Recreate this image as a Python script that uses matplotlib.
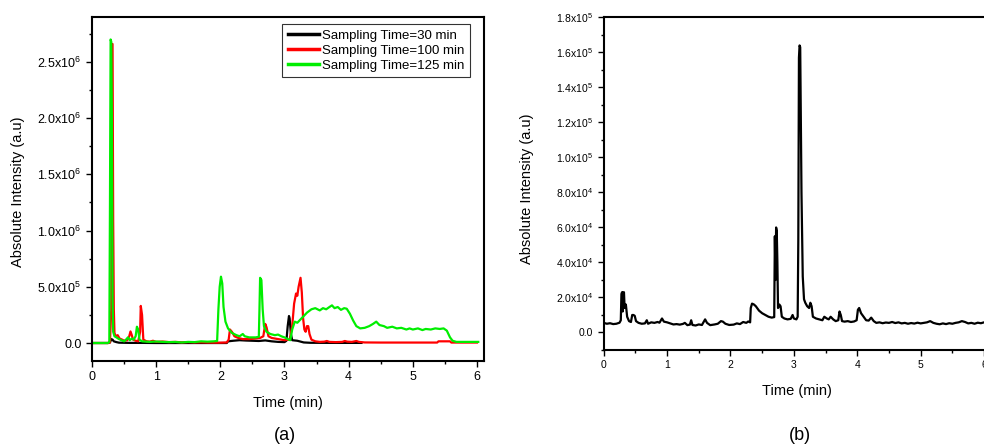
import matplotlib
matplotlib.use("Agg")
import matplotlib.pyplot as plt
from matplotlib.ticker import FuncFormatter, MultipleLocator

plt.rcParams['font.family'] = ['Liberation Sans', 'DejaVu Sans']
plt.rcParams['mathtext.default'] = 'regular'

# ---- (a) chromatograms at three sampling times ----
t_30 = [0.00, 0.25, 0.28, 0.30, 0.32, 0.34, 0.38, 0.42, 0.50, 0.60, 0.80, 1.00, 1.40, 1.80, 2.10,
        2.12, 2.20, 2.30, 2.40, 2.50, 2.60, 2.70, 2.80, 2.90, 3.00, 3.03, 3.05, 3.07, 3.08, 3.10,
        3.12, 3.20, 3.30, 3.40, 3.80, 4.20]
i_30 = [0, 0, 5e3, 3.5e4, 3e4, 1.5e4, 8e3, 3e3, 2e3, 1e3, 1e3, 0, 0, 0, 0,
        1.5e4, 2e4, 2.5e4, 2.2e4, 2e4, 1.8e4, 2.3e4, 1.5e4, 1e4, 8e3, 2e4, 1.5e5, 2.4e5, 2.2e5, 8e4,
        2.5e4, 2e4, 5e3, 2e3, 1e3, 1e3]

t_100 = [0.00, 0.25, 0.28, 0.30, 0.31, 0.32, 0.33, 0.34, 0.35, 0.37, 0.40, 0.43, 0.47, 0.50, 0.55,
         0.58, 0.60, 0.62, 0.64, 0.68, 0.72, 0.75, 0.76, 0.78, 0.80, 0.85, 0.90, 0.95, 1.00, 1.10,
         1.20, 1.30, 1.40, 1.50, 1.60, 1.70, 1.80, 1.90, 2.00, 2.10, 2.13, 2.15, 2.18, 2.22, 2.28,
         2.35, 2.45, 2.55, 2.62, 2.67, 2.70, 2.72, 2.75, 2.80, 2.90, 3.00, 3.08, 3.12, 3.15, 3.18,
         3.20, 3.22, 3.25, 3.27, 3.29, 3.31, 3.33, 3.35, 3.37, 3.39, 3.42, 3.48, 3.55, 3.62, 3.66,
         3.70, 3.80, 3.90, 3.94, 3.98, 4.05, 4.12, 4.16, 4.25, 4.50, 5.00, 5.38, 5.40, 5.58, 5.60,
         6.00]
i_100 = [0, 0, 5e3, 3e5, 2.66e6, 2.66e6, 1.09e6, 3e5, 9e4, 6e4, 7e4, 4e4, 3e4, 2e4, 2.5e4,
         6e4, 1.03e5, 7e4, 3e4, 2e4, 1.5e4, 1e5, 3.3e5, 2.5e5, 3e4, 1.5e4, 1.2e4, 2e4, 1e4, 1.3e4,
         8e3, 1e4, 6e3, 8e3, 5e3, 6e3, 4e3, 3e3, 3e3, 5e3, 3e4, 1.2e5, 1e5, 6e4, 4.5e4,
         3.5e4, 3.5e4, 4e4, 4.5e4, 6e4, 1.7e5, 1.4e5, 6e4, 4.5e4, 3.5e4, 2.5e4, 3e4, 1.5e5, 3.5e5, 4.4e5,
         4.2e5, 5e5, 5.8e5, 4.5e5, 2.2e5, 1.2e5, 1e5, 1.5e5, 1.5e5, 8e4, 3e4, 1.5e4, 1e4, 1.2e4, 1.8e4,
         1e4, 8e3, 1e4, 1.8e4, 1.2e4, 1e4, 1.8e4, 1e4, 5e3, 4e3, 4e3, 4e3, 1.5e4, 1.5e4, 4e3,
         4e3]

t_125 = [0.00, 0.25, 0.27, 0.28, 0.29, 0.30, 0.31, 0.32, 0.33, 0.35, 0.38, 0.42, 0.46, 0.50, 0.53,
         0.56, 0.59, 0.62, 0.65, 0.68, 0.70, 0.72, 0.74, 0.78, 0.85, 0.90, 1.00, 1.10, 1.20, 1.30,
         1.40, 1.50, 1.60, 1.70, 1.80, 1.90, 1.95, 1.97, 1.99, 2.01, 2.03, 2.05, 2.08, 2.12, 2.18,
         2.25, 2.30, 2.35, 2.38, 2.45, 2.55, 2.60, 2.61, 2.62, 2.64, 2.66, 2.68, 2.72, 2.78, 2.85,
         2.90, 2.95, 3.00, 3.05, 3.09, 3.12, 3.16, 3.20, 3.25, 3.30, 3.35, 3.42, 3.48, 3.55, 3.60,
         3.65, 3.70, 3.74, 3.78, 3.83, 3.88, 3.93, 3.97, 4.02, 4.07, 4.12, 4.18, 4.25, 4.32, 4.38,
         4.43, 4.48, 4.55, 4.60, 4.68, 4.75, 4.82, 4.90, 4.95, 5.00, 5.08, 5.15, 5.20, 5.28, 5.35,
         5.42, 5.48, 5.53, 5.58, 5.62, 5.68, 6.02]
i_125 = [0, 0, 1e4, 1.25e6, 2.70e6, 2.68e6, 2.0e6, 4e5, 1e5, 6e4, 5e4, 3.5e4, 2.5e4, 1.5e4, 3e4,
         5e4, 2.5e4, 4e4, 3e4, 6e4, 1.45e5, 1.2e5, 3e4, 1.5e4, 1.2e4, 1e4, 1.3e4, 1e4, 8e3, 9e3,
         5e3, 1e4, 8e3, 1.5e4, 1.2e4, 1.5e4, 1.8e4, 3e5, 5e5, 5.9e5, 5.3e5, 3.2e5, 1.9e5, 1.3e5, 9e4,
         7e4, 6e4, 8e4, 6e4, 5e4, 5e4, 5.5e4, 3e5, 5.8e5, 5.6e5, 3e5, 1.5e5, 1e5, 8e4, 7e4,
         7.5e4, 6e4, 5e4, 3.5e4, 2.5e4, 1.2e5, 1.9e5, 1.8e5, 2.1e5, 2.4e5, 2.7e5, 3e5, 3.1e5, 2.9e5, 3.1e5,
         3e5, 3.2e5, 3.35e5, 3.1e5, 3.2e5, 2.95e5, 3.1e5, 3.05e5, 2.6e5, 2e5, 1.5e5, 1.3e5, 1.35e5, 1.5e5, 1.7e5,
         1.9e5, 1.6e5, 1.5e5, 1.35e5, 1.45e5, 1.3e5, 1.35e5, 1.2e5, 1.3e5, 1.2e5, 1.3e5, 1.15e5, 1.25e5, 1.2e5, 1.3e5,
         1.25e5, 1.3e5, 1.1e5, 5e4, 2e4, 1e4, 1e4]

# ---- (b) single chromatogram ----
t_b = [0.00, 0.05, 0.10, 0.15, 0.20, 0.25, 0.27, 0.28, 0.29, 0.30, 0.31, 0.32, 0.33, 0.35, 0.37,
       0.40, 0.43, 0.45, 0.47, 0.49, 0.51, 0.55, 0.60, 0.65, 0.68, 0.70, 0.75, 0.80, 0.85, 0.88,
       0.92, 0.95, 1.00, 1.05, 1.10, 1.15, 1.20, 1.25, 1.28, 1.32, 1.36, 1.38, 1.40, 1.45, 1.50,
       1.55, 1.60, 1.63, 1.68, 1.75, 1.80, 1.85, 1.88, 1.92, 1.98, 2.05, 2.10, 2.15, 2.20, 2.25,
       2.28, 2.31, 2.32, 2.34, 2.37, 2.40, 2.45, 2.50, 2.55, 2.60, 2.65, 2.69, 2.70, 2.71, 2.72,
       2.73, 2.74, 2.75, 2.77, 2.79, 2.81, 2.85, 2.90, 2.95, 2.98, 3.00, 3.04, 3.06, 3.07, 3.08,
       3.09, 3.10, 3.11, 3.12, 3.13, 3.14, 3.16, 3.18, 3.21, 3.24, 3.26, 3.28, 3.30, 3.35, 3.40,
       3.45, 3.48, 3.52, 3.55, 3.58, 3.62, 3.66, 3.70, 3.72, 3.74, 3.76, 3.80, 3.85, 3.90, 3.95,
       3.99, 4.01, 4.03, 4.06, 4.10, 4.14, 4.18, 4.22, 4.26, 4.30, 4.35, 4.40, 4.45, 4.50, 4.55,
       4.60, 4.65, 4.70, 4.75, 4.80, 4.85, 4.90, 4.95, 5.00, 5.05, 5.10, 5.15, 5.20, 5.25, 5.30,
       5.35, 5.40, 5.45, 5.50, 5.55, 5.60, 5.65, 5.70, 5.75, 5.80, 5.85, 5.90, 5.95, 6.00, 6.05,
       6.10]
i_b = [5.5e3, 5.0e3, 5.3e3, 4.8e3, 5.0e3, 5.6e3, 7e3, 2.2e4, 2.3e4, 1.2e4, 2.3e4, 2.3e4, 1.4e4, 1.6e4, 9e3,
       6.5e3, 6e3, 1.0e4, 1.0e4, 9.5e3, 6.5e3, 5.5e3, 5.0e3, 5.2e3, 7e3, 5e3, 5.8e3, 5.5e3, 6e3, 5.6e3,
       8e3, 6.2e3, 5.8e3, 5.2e3, 4.6e3, 4.8e3, 4.5e3, 4.9e3, 5.5e3, 4.2e3, 4.5e3, 7e3, 4.3e3, 4.0e3, 4.6e3,
       4.3e3, 7.5e3, 5.5e3, 4.2e3, 4.6e3, 5.0e3, 6.5e3, 6.2e3, 5.0e3, 4.3e3, 4.5e3, 5.2e3, 4.8e3, 6.0e3, 5.5e3,
       6.3e3, 5.8e3, 1.4e4, 1.65e4, 1.6e4, 1.5e4, 1.25e4, 1.1e4, 1.0e4, 9e3, 8.5e3, 8.8e3, 5.5e4, 3e4, 6.0e4,
       5.8e4, 4e4, 1.4e4, 1.6e4, 1.5e4, 9e3, 8e3, 7.5e3, 7.8e3, 1.0e4, 8e3, 7.5e3, 9e3, 5.3e4, 1.57e5,
       1.64e5, 1.63e5, 1.2e5, 8e4, 5.5e4, 3.2e4, 1.9e4, 1.7e4, 1.5e4, 1.4e4, 1.7e4, 1.5e4, 9e3, 8e3, 7.5e3,
       7.0e3, 9e3, 8e3, 7.5e3, 9e3, 7.5e3, 6.5e3, 7e3, 1.2e4, 1.0e4, 6.5e3, 6.2e3, 6.5e3, 6.0e3, 6.3e3,
       7e3, 1.3e4, 1.4e4, 1.1e4, 9e3, 7e3, 6.8e3, 8.5e3, 6.5e3, 5.5e3, 5.8e3, 5.3e3, 5.7e3, 5.5e3, 6.0e3,
       5.4e3, 5.8e3, 5.2e3, 5.5e3, 5.0e3, 5.4e3, 5.1e3, 5.6e3, 5.2e3, 5.5e3, 5.8e3, 6.5e3, 5.5e3, 5.0e3, 4.7e3,
       5.2e3, 4.8e3, 5.3e3, 5.0e3, 5.5e3, 5.8e3, 6.5e3, 6.0e3, 5.2e3, 5.5e3, 5.0e3, 5.6e3, 5.3e3, 5.8e3, 5.5e3,
       5.6e3]

series_labels = ["Sampling Time=30 min", "Sampling Time=100 min", "Sampling Time=125 min"]
series_colors = ["black", "#ff0000", "#00ee00"]


def sci_fmt(v, pos):
    if abs(v) < 1e-9:
        return "0.0"
    exp = len(str(int(abs(v)))) - 1
    return "%.1fx10$^{%d}$" % (v / 10 ** exp, exp)


fig = plt.figure(figsize=(9.84, 4.47), dpi=100)

# left panel
ax1 = fig.add_axes([0.0935, 0.1924, 0.3984, 0.7696])
for t, y, lab, c in zip([t_30, t_100, t_125], [i_30, i_100, i_125], series_labels, series_colors):
    ax1.plot(t, y, color=c, lw=1.6, label=lab)
ax1.set_xlim(0, 6.11)
ax1.set_ylim(-1.6e5, 2.9e6)
ax1.xaxis.set_major_locator(MultipleLocator(1))
ax1.xaxis.set_minor_locator(MultipleLocator(0.5))
ax1.yaxis.set_major_locator(MultipleLocator(5e5))
ax1.yaxis.set_minor_locator(MultipleLocator(2.5e5))
ax1.yaxis.set_major_formatter(FuncFormatter(sci_fmt))
ax1.tick_params(which='major', direction='out', length=4, width=1, labelsize=9, colors='black')
ax1.tick_params(which='minor', direction='out', length=2.5, width=1)
for s in ax1.spines.values():
    s.set_linewidth(1.5)
ax1.set_xlabel("Time (min)", fontsize=10.5)
ax1.set_ylabel("Absolute Intensity (a.u)", fontsize=10.5)
ax1.xaxis.set_label_coords(0.499, -0.122)
ax1.xaxis.label.set_va('center')
ax1.yaxis.set_label_coords(-0.189, 0.493)
ax1.yaxis.label.set_va('center')
leg = ax1.legend(loc='upper right', bbox_to_anchor=(0.963, 0.979), fontsize=9.5, frameon=True,
                 fancybox=False, edgecolor='black', handlelength=2.4, handletextpad=0.2,
                 borderpad=0.4, labelspacing=0.22, borderaxespad=0)
leg.get_frame().set_linewidth(0.8)
for h in leg.get_lines():
    h.set_linewidth(2.5)

# right panel, runs past the right edge of the figure
ax2 = fig.add_axes([0.6135, 0.217, 0.393, 0.744])
ax2.plot(t_b, i_b, color='black', lw=1.6)
ax2.set_xlim(0, 6.1)
ax2.set_ylim(-1.0e4, 1.8e5)
ax2.xaxis.set_major_locator(MultipleLocator(1))
ax2.xaxis.set_minor_locator(MultipleLocator(0.5))
ax2.yaxis.set_major_locator(MultipleLocator(2e4))
ax2.yaxis.set_minor_locator(MultipleLocator(1e4))
ax2.yaxis.set_major_formatter(FuncFormatter(sci_fmt))
ax2.tick_params(which='major', direction='out', length=4, width=1, labelsize=7.5)
ax2.tick_params(which='minor', direction='out', length=2.5, width=1)
for s in ax2.spines.values():
    s.set_linewidth(1.5)
ax2.set_xlabel("Time (min)", fontsize=10.5)
ax2.set_ylabel("Absolute Intensity (a.u)", fontsize=10.5)
ax2.xaxis.set_label_coords(0.5, -0.123)
ax2.xaxis.label.set_va('center')
ax2.yaxis.set_label_coords(-0.199, 0.484)
ax2.yaxis.label.set_va('center')

fig.text(285 / 984, 1 - 435 / 447, "(a)", fontsize=13, ha='center', va='center')
fig.text(800 / 984, 1 - 435 / 447, "(b)", fontsize=13, ha='center', va='center')

fig.savefig("out.png", dpi=100)
